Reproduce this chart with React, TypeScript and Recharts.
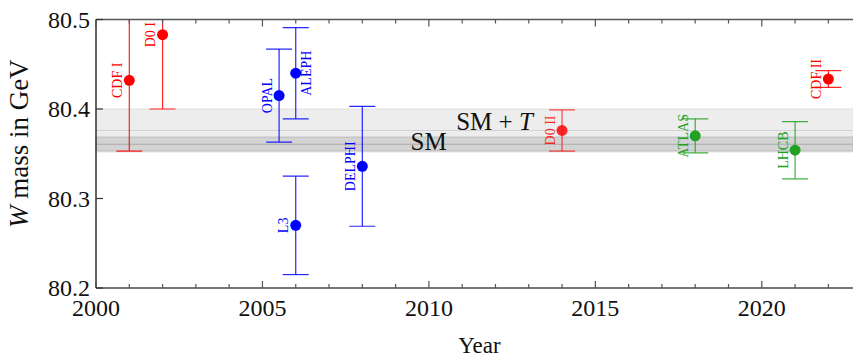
import React from 'react';
import {
  ScatterChart,
  Scatter,
  XAxis,
  YAxis,
  ErrorBar,
  ReferenceArea,
  ReferenceLine,
  ReferenceDot,
  Label,
} from 'recharts';

// ---------------- data ----------------
const experiments = ['CDF I', 'D0 I', 'OPAL', 'ALEPH', 'L3', 'DELPHI', 'D0 II', 'ATLAS', 'LHCB', 'CDF II'];
const years = [2001, 2002, 2005.5, 2006, 2006, 2008, 2014, 2018, 2021, 2022];
const masses = [80.432, 80.483, 80.415, 80.44, 80.27, 80.336, 80.376, 80.37, 80.354, 80.4335];
const uncertainties = [0.079, 0.083, 0.052, 0.051, 0.055, 0.067, 0.023, 0.019, 0.032, 0.0094];
const colliders = ['Tevatron', 'Tevatron', 'LEP', 'LEP', 'LEP', 'LEP', 'Tevatron', 'LHC', 'LHC', 'Tevatron'];

const yearTicks = [2000, 2001, 2002, 2003, 2004, 2005, 2006, 2007, 2008, 2009, 2010, 2011, 2012, 2013, 2014, 2015, 2016, 2017, 2018, 2019, 2020, 2021, 2022];
const massTicks = [80.2, 80.3, 80.4, 80.5];
const yearDomain = [2000, 2022.74];
const massDomain = [80.2, 80.5];

const smtBand = [80.352, 80.4];
const smtCentral = 80.376;
const smBand = [80.3532, 80.3686];
const smCentral = 80.3606;

const bandLabels = [
  { id: 'sm', year: 2009.45, mass: 80.3545 },
  { id: 'smt', year: 2010.82, mass: 80.3769 },
];

// ---------------- layout / styles ----------------
const W = 853;
const H = 358;
const MARGIN = { top: 0, right: 0, bottom: 30, left: 6 };
const TOP_AXIS_H = 19.5;
const X_AXIS_H = 40;
const Y_AXIS_W = 90;
const plotBox = {
  x: MARGIN.left + Y_AXIS_W,
  y: MARGIN.top + TOP_AXIS_H,
  width: W - MARGIN.left - Y_AXIS_W - MARGIN.right,
  height: H - MARGIN.top - TOP_AXIS_H - X_AXIS_H - MARGIN.bottom,
};

const FONT = '"Liberation Serif", "Times New Roman", serif';
const colliderColor: Record<string, string> = {
  Tevatron: '#ff0000',
  LEP: '#0000ff',
  LHC: '#22a022',
};
const fadedNames = new Set(['D0 II']);
const rightLabelNames = new Set(['ALEPH']);

const rows = experiments.map((name, i) => ({
  name,
  year: years[i],
  mass: masses[i],
  err: uncertainties[i],
  collider: colliders[i],
  faded: fadedNames.has(name),
}));

const groups: { key: string; color: string; opacity: number; data: typeof rows }[] = [];
rows.forEach((r) => {
  const key = r.collider + (r.faded ? '-f' : '');
  let g = groups.find((x) => x.key === key);
  if (!g) {
    g = { key, color: colliderColor[r.collider], opacity: r.faded ? 0.82 : 1, data: [] };
    groups.push(g);
  }
  g.data.push(r);
});

const Marker = (props: any) => {
  const { cx, cy, payload, color, opacity } = props;
  if (cx == null || cy == null) return null;
  const right = rightLabelNames.has(payload.name);
  const lx = right ? cx + 15.5 : cx - 7.5;
  return (
    <g opacity={opacity}>
      <circle cx={cx} cy={cy} r={5.5} fill={color} />
      <text
        x={lx}
        y={cy}
        transform={`rotate(-90 ${lx} ${cy})`}
        textAnchor="middle"
        fontFamily={FONT}
        fontSize={14}
        fill={color}
      >
        {payload.name}
      </text>
    </g>
  );
};

const BottomTick = (props: any) => {
  const { x, y, payload } = props;
  const major = payload.value % 5 === 0;
  return (
    <g>
      <line x1={x} x2={x} y1={y} y2={y - (major ? 7 : 4)} stroke="#555" strokeWidth={1.2} />
      {major && (
        <text x={x} y={y + 28} textAnchor="middle" fontFamily={FONT} fontSize={24} fill="#111">
          {payload.value}
        </text>
      )}
    </g>
  );
};

const TopTick = (props: any) => {
  const { x, y, payload } = props;
  const major = payload.value % 5 === 0;
  return <line x1={x} x2={x} y1={y} y2={y + (major ? 7 : 4)} stroke="#555" strokeWidth={1.2} />;
};

const LeftTick = (props: any) => {
  const { x, y, payload } = props;
  return (
    <g>
      <line x1={x} x2={x + 7} y1={y} y2={y} stroke="#333" strokeWidth={1.2} />
      <text x={x - 6} y={y + 8} textAnchor="end" fontFamily={FONT} fontSize={24} fill="#111">
        {payload.value.toFixed(1)}
      </text>
    </g>
  );
};

const renderYTitle = (props: any) => {
  const vb = props.viewBox;
  const x = vb.x + 22;
  const y = vb.y + vb.height / 2 - 10;
  return (
    <text x={x} y={y} transform={`rotate(-90 ${x} ${y})`} textAnchor="middle" fontFamily={FONT} fontSize={27} fill="#111">
      <tspan fontStyle="italic">W</tspan> mass in GeV
    </text>
  );
};

const renderXTitle = (props: any) => {
  const vb = props.viewBox;
  return (
    <text x={vb.x + vb.width / 2 + 5} y={vb.y + 65} textAnchor="middle" fontFamily={FONT} fontSize={23} fill="#111">
      Year
    </text>
  );
};

const BandText = (props: any) => {
  const { cx, cy, id } = props;
  if (id === 'sm') {
    return (
      <text x={cx} y={cy} fontFamily={FONT} fontSize={25} fill="#111">
        SM
      </text>
    );
  }
  return (
    <text x={cx} y={cy} fontFamily={FONT} fontSize={25} fill="#111">
      SM + <tspan fontStyle="italic">T</tspan>
    </text>
  );
};

export default function App() {
  return (
    <div style={{ position: 'absolute', left: 0, top: 0, width: W, height: H, background: '#fff' }}>
      <ScatterChart width={W} height={H} margin={MARGIN}>
        <defs>
          <clipPath id="wmass-plot-clip">
            <rect x={plotBox.x} y={plotBox.y} width={plotBox.width} height={plotBox.height} />
          </clipPath>
        </defs>
        <XAxis
          xAxisId="top"
          orientation="top"
          type="number"
          dataKey="year"
          domain={yearDomain}
          allowDataOverflow
          ticks={yearTicks}
          interval={0}
          tickSize={0}
          tickMargin={0}
          tickLine={false}
          height={TOP_AXIS_H}
          axisLine={{ stroke: '#555', strokeWidth: 1.5 }}
          tick={<TopTick />}
        />
        <XAxis
          type="number"
          dataKey="year"
          domain={yearDomain}
          allowDataOverflow
          ticks={yearTicks}
          interval={0}
          tickSize={0}
          tickMargin={0}
          tickLine={false}
          height={X_AXIS_H}
          axisLine={{ stroke: '#777', strokeWidth: 2 }}
          tick={<BottomTick />}
          label={<Label content={renderXTitle} />}
        />
        <YAxis
          type="number"
          dataKey="mass"
          domain={massDomain}
          allowDataOverflow
          ticks={massTicks}
          interval={0}
          tickSize={0}
          tickMargin={0}
          tickLine={false}
          width={Y_AXIS_W}
          axisLine={{ stroke: '#333', strokeWidth: 1.5 }}
          tick={<LeftTick />}
          label={<Label content={renderYTitle} />}
        />
        <ReferenceArea y1={smtBand[0]} y2={smtBand[1]} fill="#ededed" fillOpacity={1} stroke="#e2e2e2" strokeWidth={1} />
        <ReferenceLine y={smtCentral} stroke="#d2d2d2" strokeWidth={1.2} />
        <ReferenceArea y1={smBand[0]} y2={smBand[1]} fill="#d3d3d3" fillOpacity={1} stroke="#bdbdbd" strokeWidth={1} />
        <ReferenceLine y={smCentral} stroke="#ababab" strokeWidth={1.2} />
        {bandLabels.map((b) => (
          <ReferenceDot
            key={b.id}
            x={b.year}
            y={b.mass}
            r={0}
            shape={(p: any) => <BandText {...p} id={b.id} />}
          />
        ))}
        {groups.map((g) => (
          <Scatter
            key={g.key}
            data={g.data}
            isAnimationActive={false}
            fill={g.color}
            shape={(p: any) => <Marker {...p} color={g.color} opacity={g.opacity} />}
          >
            <ErrorBar
              dataKey="err"
              direction="y"
              width={13}
              stroke={g.color}
              strokeOpacity={g.opacity * 0.85}
              strokeWidth={1.2}
              clipPath="url(#wmass-plot-clip)"
              isAnimationActive={false}
            />
          </Scatter>
        ))}
      </ScatterChart>
    </div>
  );
}
